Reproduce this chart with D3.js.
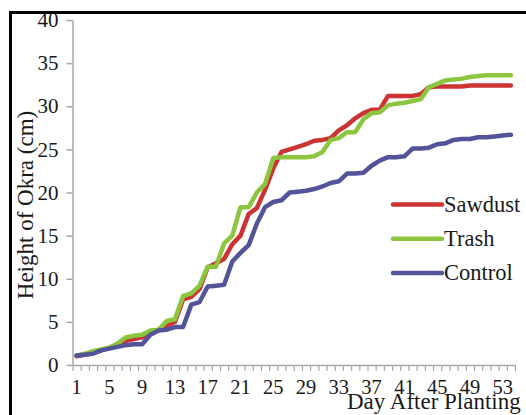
<!DOCTYPE html>
<html>
<head>
<meta charset="utf-8">
<script src="https://cdn.jsdelivr.net/npm/d3@7"></script>
<style>
  html, body { margin: 0; padding: 0; background: #fff; }
  svg { display: block; }
  text { font-family: "Liberation Serif", "Times New Roman", serif; fill: #1a1a1a; }
</style>
</head>
<body>
<svg id="chart" width="526" height="415"></svg>
<script>
// ---- data ----
const days = [1,2,3,4,5,6,7,8,9,10,11,12,13,14,15,16,17,18,19,20,21,22,23,24,25,26,27,
  28,29,30,31,32,33,34,35,36,37,38,39,40,41,42,43,44,45,46,47,48,49,50,51,52,53,54];
const sawdust = [1.0,1.2,1.4,1.7,2.0,2.3,2.8,3.0,3.2,3.8,4.0,4.5,5.0,7.6,7.9,8.8,11.3,11.8,12.3,14.0,
  15.0,17.5,18.2,20.3,22.8,24.7,25.0,25.3,25.6,26.0,26.1,26.3,27.2,27.8,28.6,29.2,29.6,29.6,31.2,31.2,
  31.2,31.2,31.4,32.2,32.3,32.3,32.3,32.3,32.4,32.4,32.4,32.4,32.4,32.4];
const trash = [1.1,1.3,1.6,1.8,2.0,2.5,3.2,3.4,3.5,4.0,4.1,5.1,5.3,8.0,8.3,9.2,11.4,11.4,14.1,15.0,
  18.3,18.3,20.0,21.0,24.0,24.1,24.1,24.1,24.1,24.2,24.7,26.1,26.3,27.0,27.0,28.5,29.2,29.3,30.1,30.3,
  30.4,30.6,30.8,32.2,32.6,33.0,33.1,33.2,33.4,33.5,33.6,33.6,33.6,33.6];
const control = [1.1,1.2,1.3,1.7,1.9,2.1,2.3,2.4,2.4,3.5,4.0,4.1,4.4,4.4,7.0,7.3,9.1,9.2,9.3,12.0,
  13.0,13.9,16.4,18.3,18.9,19.1,20.0,20.1,20.2,20.4,20.7,21.1,21.3,22.2,22.2,22.3,23.1,23.7,24.1,24.1,
  24.2,25.1,25.1,25.2,25.6,25.7,26.1,26.2,26.2,26.4,26.4,26.5,26.6,26.7];
const seriesNames = ["Sawdust", "Trash", "Control"];
const seriesColors = ["#cc3333", "#8cc63f", "#535399"];
const yTicks = [0,5,10,15,20,25,30,35,40];
const xLabelDays = [1,5,9,13,17,21,25,29,33,37,41,45,49,53];
const yTitle = "Height of Okra (cm)";
const xTitle = "Day After Planting";

// ---- layout ----
const svg = d3.select("#chart");
const x0 = 72.5, x1 = 515, yBottom = 365, yTop = 20;

const xBand = d3.scaleBand().domain(days).range([x0, x1]).padding(0);
const xEdge = d3.scaleLinear().domain([0.5, days.length + 0.5]).range([x0, x1]);
const y = d3.scaleLinear().domain([0, 40]).range([yBottom, yTop]);

// frame (top and left black borders)
svg.append("line").attr("x1", 10.5).attr("x2", 526).attr("y1", 12.5).attr("y2", 12.5)
  .attr("stroke", "#000").attr("stroke-width", 3);
svg.append("line").attr("x1", 10.5).attr("x2", 10.5).attr("y1", 11).attr("y2", 415)
  .attr("stroke", "#000").attr("stroke-width", 3);

const axisColor = "#a6a6a6";

// y axis
const gy = svg.append("g").attr("transform", `translate(${x0},0)`)
  .call(d3.axisLeft(y).tickValues(yTicks).tickSize(6).tickPadding(8).tickSizeOuter(0));
gy.select(".domain").attr("stroke", axisColor).attr("stroke-width", 1.5);
gy.selectAll(".tick line").attr("stroke", axisColor).attr("stroke-width", 1.5);
gy.selectAll(".tick text").style("font-size", "21px").style("font-family", "Liberation Serif").attr("fill", "#1a1a1a");

// x axis: tick marks at category boundaries
const edges = d3.range(0, days.length + 1).map(i => i + 0.5);
const gx = svg.append("g").attr("transform", `translate(0,${yBottom})`)
  .call(d3.axisBottom(xEdge).tickValues(edges).tickSize(6).tickFormat("").tickSizeOuter(0));
gx.select(".domain").attr("stroke", axisColor).attr("stroke-width", 1.5);
gx.selectAll(".tick line").attr("stroke", axisColor).attr("stroke-width", 1.2);

// x axis labels centred in categories
const gxl = svg.append("g").attr("transform", `translate(0,${yBottom})`)
  .call(d3.axisBottom(xBand).tickValues(xLabelDays).tickSize(0).tickPadding(14));
gxl.select(".domain").remove();
gxl.selectAll(".tick text").style("font-size", "20.5px").style("font-family", "Liberation Serif").attr("fill", "#1a1a1a");

// series lines
const cx = d => xBand(d) + xBand.bandwidth() / 2;
const lineGen = d3.line().x((d, i) => cx(days[i])).y(d => y(d));
const allSeries = [sawdust, trash, control];
allSeries.forEach((s, k) => {
  svg.append("path").datum(s)
    .attr("d", lineGen)
    .attr("fill", "none")
    .attr("stroke", seriesColors[k])
    .attr("stroke-width", 4.5)
    .attr("stroke-linejoin", "round")
    .attr("stroke-linecap", "round");
});

// legend
const legY0 = 204.5, legStep = 34.2;
seriesNames.forEach((name, k) => {
  const ly = legY0 + k * legStep;
  svg.append("line").attr("x1", 393).attr("x2", 442).attr("y1", ly).attr("y2", ly)
    .attr("stroke", seriesColors[k]).attr("stroke-width", 4.5).attr("stroke-linecap", "round");
  svg.append("text").attr("x", 444).attr("y", ly + 7.5)
    .style("font-size", "22.5px").text(name);
});

// axis titles
svg.append("text")
  .attr("transform", `translate(33,205) rotate(-90)`)
  .attr("text-anchor", "middle")
  .style("font-size", "23px")
  .text(yTitle);
svg.append("text")
  .attr("x", 347).attr("y", 409)
  .style("font-size", "23px")
  .text(xTitle);
</script>
</body>
</html>
